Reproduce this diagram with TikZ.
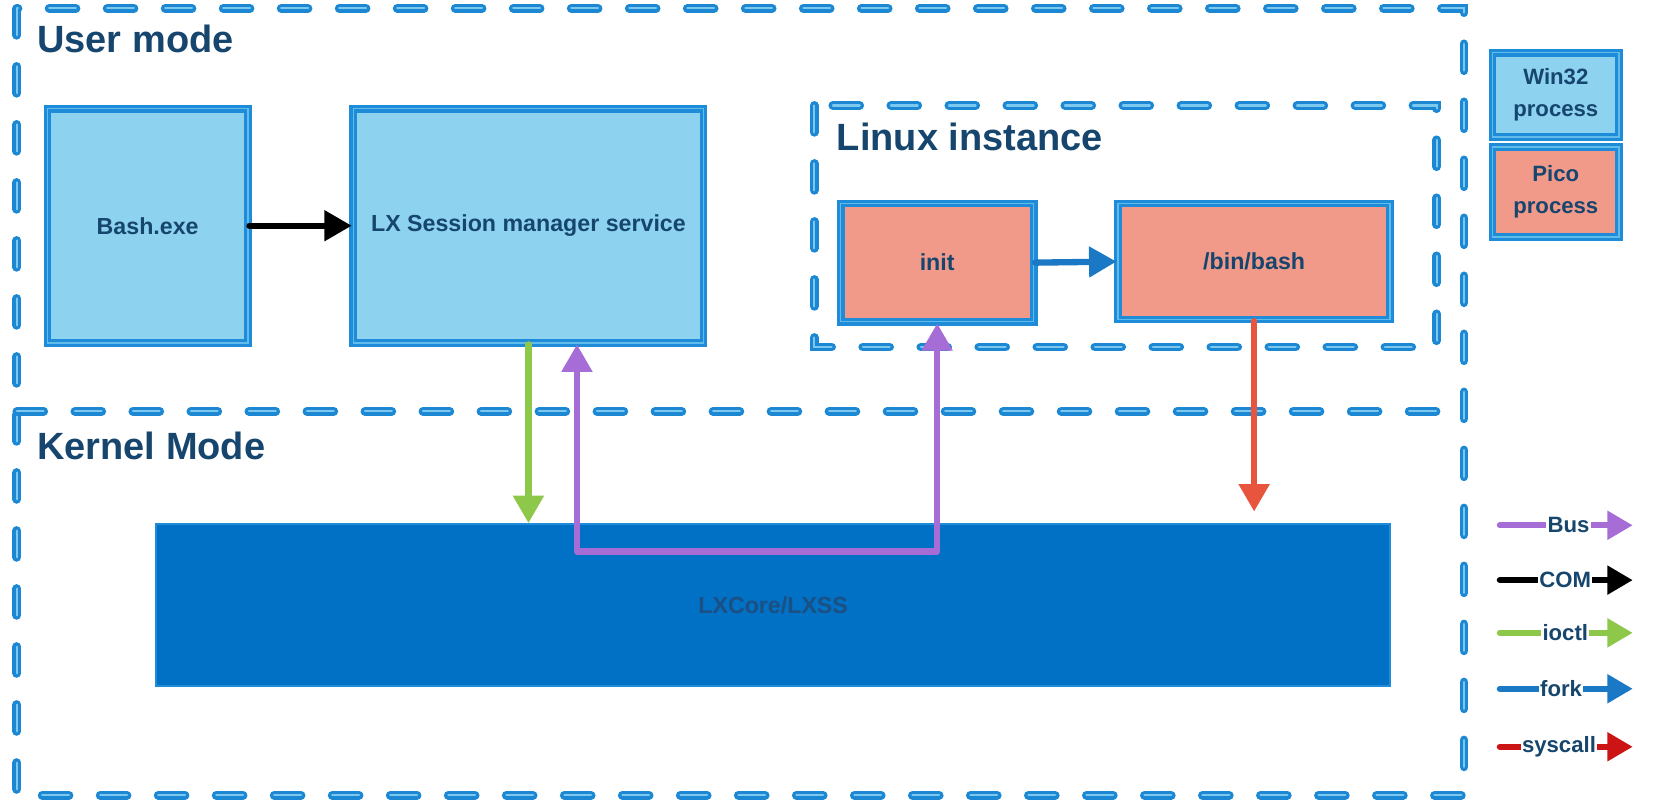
\documentclass[tikz,border=0pt]{standalone}
\usepackage{fontspec}
\setmainfont{Liberation Sans}
\usetikzlibrary{arrows.meta}
\definecolor{boxblue}{HTML}{1E8CD8}
\definecolor{boxinner}{HTML}{62BCEA}
\definecolor{lightblue}{HTML}{8DD3F0}
\definecolor{salmon}{HTML}{F29A8A}
\definecolor{coreblue}{HTML}{0071C5}
\definecolor{coretext}{HTML}{1C4F82}
\definecolor{navy}{HTML}{16456E}
\definecolor{dashblue}{HTML}{1C88D4}
\definecolor{dashinner}{HTML}{7CC8EE}
\definecolor{busc}{HTML}{A56DD5}
\definecolor{ioctlc}{HTML}{8DC84B}
\definecolor{forkc}{HTML}{1A78C4}
\definecolor{sysc}{HTML}{E8553E}
\definecolor{sysleg}{HTML}{CC1414}
\begin{document}
\begin{tikzpicture}[x=0.5pt,y=-0.5pt,
  zone/.style={draw=dashblue, double=dashinner, double distance=1pt, line width=1.6pt,
    line cap=round, dash pattern=on 12.7pt off 14.8pt},
  box/.style={draw=boxblue, double=boxinner, double distance=0.7pt, line width=1.5pt,
    rectangle, inner sep=0pt, text=navy, align=center,
    font=\bfseries\fontsize{11pt}{13pt}\selectfont},
  winbox/.style={box, fill=lightblue},
  picobox/.style={box, fill=salmon},
  legbox/.style={box, font=\bfseries\fontsize{10.5pt}{15pt}\selectfont},
  heading/.style={anchor=base west, inner sep=0pt, text=navy,
    font=\bfseries\fontsize{18pt}{20pt}\selectfont},
  conn/.style={line width=3pt, line cap=round, -{Triangle[length=13pt,width=14pt]}},
  legarrow/.style={line width=3pt, line cap=round, -{Triangle[length=12pt,width=13pt]}},
  legtext/.style={inner xsep=0.6pt, inner ysep=1pt, fill=white, text=navy,
    font=\bfseries\fontsize{10.5pt}{12pt}\selectfont},
]
\useasboundingbox (0,0) rectangle (1570,769);

% containers
\draw[zone] (16,8) rectangle (1388,754);
\draw[zone] (16,390) -- (1388,390);
\draw[zone] (772,100) rectangle (1362,329);

% headings
\node[heading] (hUser) at (35,50) {User mode};
\node[heading] (hKernel) at (35,436) {Kernel Mode};
\node[heading] (hLinux) at (793,143) {Linux instance};

% processes
\node[winbox, minimum width=95pt, minimum height=111pt] (bash) at (140,214) {Bash.exe};
\node[winbox, minimum width=166pt, minimum height=111pt] (lxsm) at (501,214) {LX Session manager service};
\node[picobox, minimum width=91.5pt, minimum height=56pt] (init) at (888.5,249) {init};
\node[picobox, minimum width=129pt, minimum height=55pt] (binbash) at (1189,248) {/bin/bash};
\node[rectangle, fill=coreblue, draw=boxblue, line width=1pt, minimum width=585pt,
      minimum height=76.5pt, text=coretext,
      font=\bfseries\fontsize{11pt}{13pt}\selectfont] (lxcore) at (733,573.5) {LXCore/LXSS};

% legend boxes
\node[legbox, fill=lightblue, minimum width=60pt, minimum height=40pt] (lwin) at (1475,90) {Win32\\process};
\node[legbox, fill=salmon, minimum width=60pt, minimum height=42.5pt] (lpico) at (1475,182) {Pico\\process};

% connectors
\draw[conn, black] (bash.east) -- (lxsm.west);
\draw[conn, forkc] (init.east) -- (binbash.west);
\draw[conn, ioctlc] (lxsm.south) -- (lxsm.south |- lxcore.north);
\coordinate (busstart) at ([xshift=23pt]lxsm.south);
\coordinate (busy) at (0,523);
\draw[line width=3pt, busc, line join=round,
      {Triangle[length=13pt,width=14pt]}-{Triangle[length=13pt,width=14pt]}]
  (busstart) -- (busstart |- busy) -| (init.south);
\coordinate (sysend) at (0,485);
\draw[conn, sysc] (binbash.south) -- (binbash.south |- sysend);

% legend arrows
\coordinate (lbA) at (1422,498); \coordinate (lbB) at (1548,498);
\coordinate (lcA) at (1422,550); \coordinate (lcB) at (1548,550);
\coordinate (liA) at (1422,600); \coordinate (liB) at (1548,600);
\coordinate (lfA) at (1422,653); \coordinate (lfB) at (1548,653);
\coordinate (lsA) at (1422,708); \coordinate (lsB) at (1548,708);
\draw[legarrow, busc] (lbA) -- (lbB);
\node[legtext] (tbus) at (1487,498) {Bus};
\draw[legarrow, black] (lcA) -- (lcB);
\node[legtext] (tcom) at (1484,550) {COM};
\draw[legarrow, ioctlc] (liA) -- (liB);
\node[legtext] (tioctl) at (1484,600) {ioctl};
\draw[legarrow, forkc] (lfA) -- (lfB);
\node[legtext] (tfork) at (1480,653) {fork};
\draw[legarrow, sysleg] (lsA) -- (lsB);
\node[legtext] (tsys) at (1478,708) {syscall};
\end{tikzpicture}
\end{document}
